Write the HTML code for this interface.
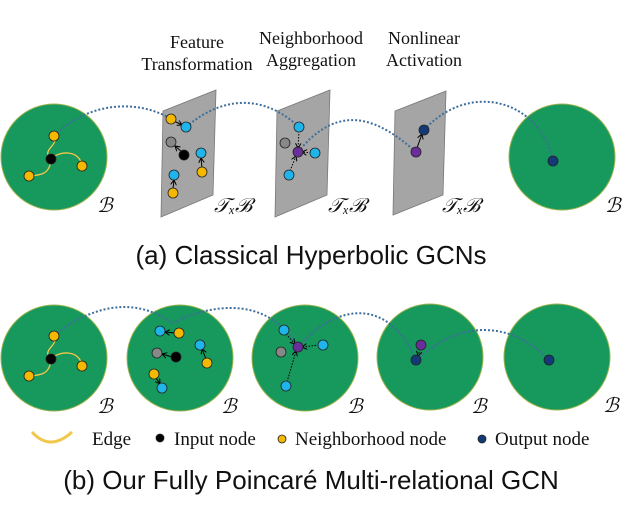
<!DOCTYPE html><html><head><style>body{margin:0;background:#fff}svg{display:block}</style></head><body>
<svg width="622" height="522" xmlns="http://www.w3.org/2000/svg" font-family="Liberation Serif, serif">
<defs><marker id="a" markerWidth="6" markerHeight="6" refX="5" refY="3" orient="auto"><path d="M0,0 L5,3 L0,6" fill="none" stroke="#000" stroke-width="1"/></marker></defs>
<g font-size="18" text-anchor="middle" fill="#111">
<text x="197" y="48">Feature</text><text x="197" y="70">Transformation</text>
<text x="311" y="44">Neighborhood</text><text x="311" y="66">Aggregation</text>
<text x="424" y="44">Nonlinear</text><text x="424" y="66">Activation</text></g>
<g fill="#17985c" stroke="#9ab34a" stroke-width="1">
<circle cx="54" cy="157" r="53"/><circle cx="562" cy="157" r="53"/>
<circle cx="54" cy="358" r="53"/><circle cx="180" cy="358" r="53"/><circle cx="305" cy="358" r="53"/><circle cx="430" cy="357" r="53"/><circle cx="557" cy="357" r="53"/></g>
<g fill="#a5a5a5" stroke="#777" stroke-width="0.8">
<polygon points="163,111 216,90 213,195 161,217"/><polygon points="277,111 330,90 327,195 275,217"/><polygon points="395,111 446,91 443,195 393,215"/></g>
<g fill="none" stroke="#3e6e9c" stroke-width="2" stroke-dasharray="2,2">
<path d="M54,136 C90,100 140,100 171,119"/><path d="M186,127 C230,90 270,100 299,127"/><path d="M298,152 C340,100 380,120 416,152"/><path d="M424,130 C470,80 540,100 553,161"/>
<path d="M54,335 C100,300 140,300 172,323"/><path d="M172,323 C220,300 270,300 298,347"/><path d="M298,347 C340,300 390,300 416,360"/><path d="M416,360 C460,320 510,320 549,360"/></g>
<g fill="none" stroke="#f2c84b" stroke-width="1.3">
<path d="M51,159 C40,150 60,145 54,136"/><path d="M51,159 C60,150 80,150 82,166"/><path d="M51,159 C50,175 40,175 29,176"/>
<path d="M51,359 C40,350 60,345 54,336"/><path d="M51,359 C60,350 80,350 82,366"/><path d="M51,359 C50,375 40,375 29,376"/>
<path d="M32,432 Q50,452 72,432" stroke-width="3"/></g>
<g stroke="#000" stroke-width="1" marker-end="url(#a)">
<line x1="174" y1="121" x2="182" y2="125"/><line x1="182" y1="152" x2="175" y2="146"/><line x1="202" y1="168" x2="201" y2="158"/><line x1="173" y1="189" x2="174" y2="180"/>
<line x1="299" y1="131" x2="298" y2="148" stroke-dasharray="1.5,1.5"/><line x1="311" y1="153" x2="302" y2="152" stroke-dasharray="1.5,1.5"/><line x1="290" y1="171" x2="296" y2="156" stroke-dasharray="1.5,1.5"/>
<line x1="417" y1="148" x2="422" y2="134"/>
<line x1="175" y1="333" x2="165" y2="332"/><line x1="172" y1="357" x2="162" y2="354"/><line x1="206" y1="359" x2="202" y2="349"/><line x1="156" y1="378" x2="160" y2="384"/>
<line x1="286" y1="334" x2="295" y2="344" stroke-dasharray="1.5,1.5"/><line x1="319" y1="345" x2="302" y2="347" stroke-dasharray="1.5,1.5"/><line x1="287" y1="382" x2="296" y2="351" stroke-dasharray="1.5,1.5"/>
<line x1="420" y1="349" x2="418" y2="356" stroke-dasharray="1.5,1.5"/></g>
<g stroke="#222" stroke-width="0.8">
<g fill="#000"><circle cx="51" cy="159" r="5"/><circle cx="184" cy="155" r="5"/><circle cx="51" cy="359" r="5"/><circle cx="176" cy="357" r="5"/><circle cx="160" cy="438" r="4"/></g>
<g fill="#f5b800"><circle cx="54" cy="136" r="5"/><circle cx="82" cy="166" r="5"/><circle cx="29" cy="176" r="5"/><circle cx="171" cy="119" r="5"/><circle cx="202" cy="172" r="5"/><circle cx="173" cy="193" r="5"/>
<circle cx="54" cy="336" r="5"/><circle cx="82" cy="366" r="5"/><circle cx="29" cy="376" r="5"/><circle cx="179" cy="333" r="5"/><circle cx="207" cy="363" r="5"/><circle cx="154" cy="374" r="5"/><circle cx="282" cy="439" r="4"/></g>
<g fill="#1fb4ea"><circle cx="186" cy="127" r="5"/><circle cx="201" cy="153" r="5"/><circle cx="174" cy="175" r="5"/><circle cx="299" cy="127" r="5"/><circle cx="315" cy="153" r="5"/><circle cx="289" cy="175" r="5"/>
<circle cx="160" cy="331" r="5"/><circle cx="200" cy="345" r="5"/><circle cx="162" cy="388" r="5"/><circle cx="284" cy="330" r="5"/><circle cx="323" cy="345" r="5"/><circle cx="286" cy="386" r="5"/></g>
<g fill="#888"><circle cx="171" cy="142" r="5"/><circle cx="285" cy="143" r="5"/><circle cx="157" cy="353" r="5"/><circle cx="281" cy="352" r="5"/></g>
<g fill="#6a2e9c"><circle cx="298" cy="152" r="5"/><circle cx="416" cy="152" r="5"/><circle cx="298" cy="347" r="5"/><circle cx="421" cy="345" r="5"/></g>
<g fill="#133a77"><circle cx="424" cy="130" r="5"/><circle cx="553" cy="161" r="5"/><circle cx="416" cy="360" r="5"/><circle cx="549" cy="360" r="5"/><circle cx="482" cy="439" r="4"/></g></g>
<g font-size="20" font-style="italic" fill="#111">
<text x="97" y="212">ℬ</text><text x="214" y="212">𝒯ₓℬ</text><text x="328" y="212">𝒯ₓℬ</text><text x="442" y="212">𝒯ₓℬ</text><text x="605" y="212">ℬ</text>
<text x="97" y="413">ℬ</text><text x="221" y="413">ℬ</text><text x="347" y="413">ℬ</text><text x="471" y="413">ℬ</text><text x="603" y="412">ℬ</text></g>
<g font-size="19" fill="#111"><text x="92" y="445">Edge</text><text x="174" y="445">Input node</text><text x="295" y="445">Neighborhood node</text><text x="495" y="445">Output node</text></g>
<g font-family="Liberation Sans, sans-serif" font-size="26" text-anchor="middle" fill="#111">
<text x="311" y="264">(a) Classical Hyperbolic GCNs</text><text x="311" y="489">(b) Our Fully Poincaré Multi-relational GCN</text></g>
</svg></body></html>
